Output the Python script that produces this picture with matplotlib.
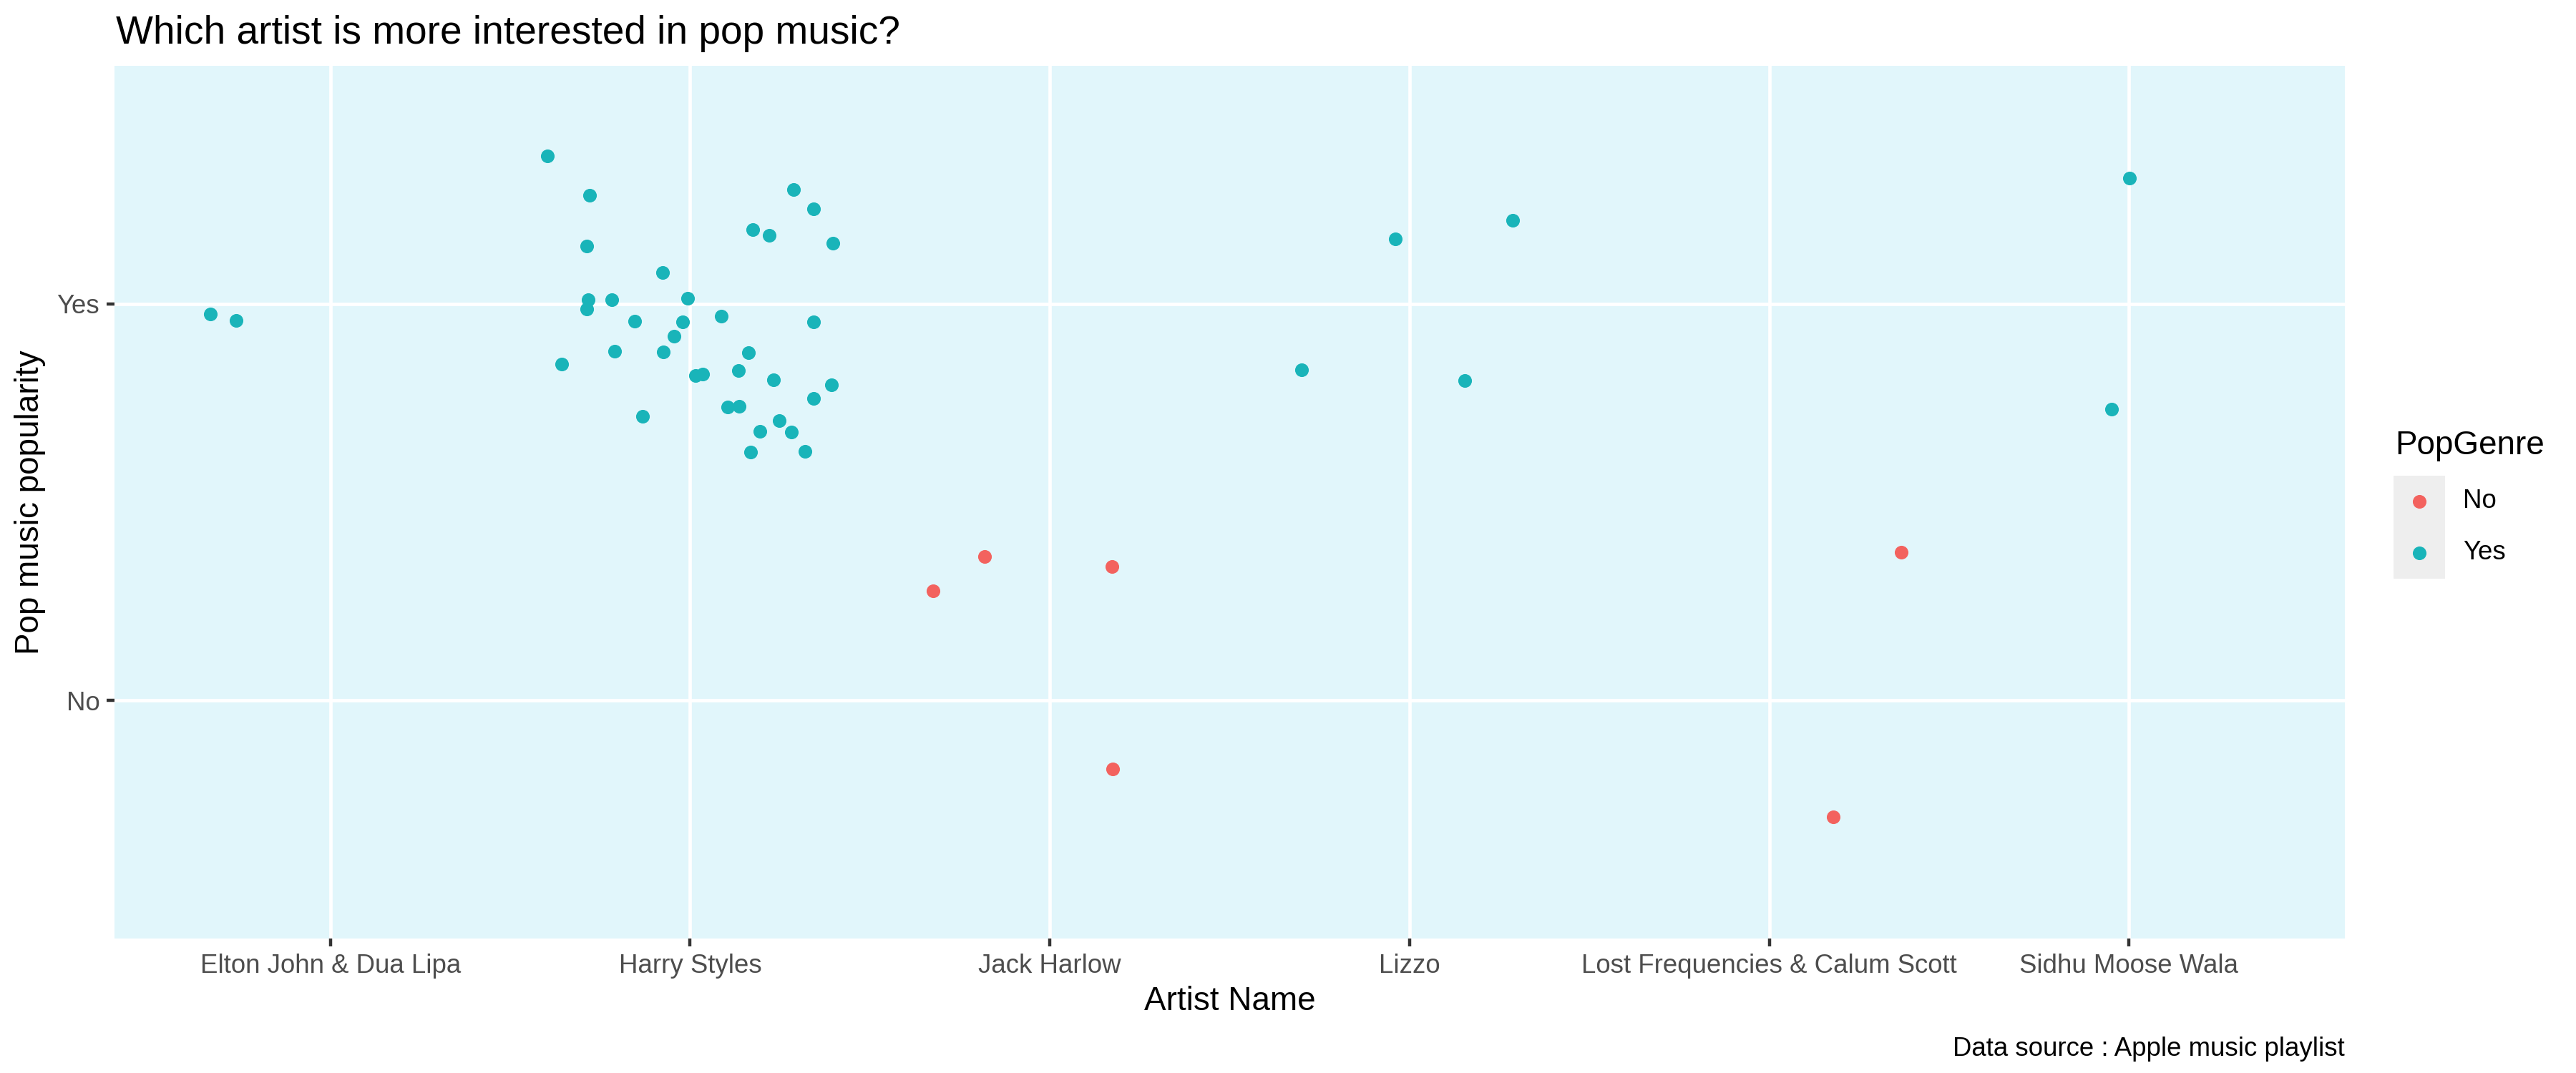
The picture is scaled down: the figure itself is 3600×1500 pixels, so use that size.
import matplotlib
matplotlib.use("Agg")
import matplotlib.pyplot as plt

plt.rcParams['font.family'] = ['Liberation Sans', 'DejaVu Sans']

# categories
artists = ["Elton John & Dua Lipa", "Harry Styles", "Jack Harlow", "Lizzo",
           "Lost Frequencies & Calum Scott", "Sidhu Moose Wala"]
genre_levels = ["No", "Yes"]

# jittered positions (x: artist index 1..6, y: 1=No, 2=Yes)
yes_x = [0.666, 0.739,
         1.604, 1.721, 1.713, 1.923, 1.717, 1.782, 1.994, 1.713, 1.846, 1.980,
         1.956, 1.791, 1.925, 1.643, 1.867, 2.016, 2.036, 2.087, 2.343, 2.288,
         2.344, 2.174, 2.221, 2.397, 2.163, 2.134, 2.232, 2.393, 2.343, 2.105,
         2.137, 2.247, 2.194, 2.281, 2.169, 2.319,
         3.700, 3.961, 4.153, 4.287,
         5.952, 6.001]
yes_y = [1.974, 1.958,
         2.372, 2.273, 2.145, 2.079, 2.010, 2.011, 2.014, 1.986, 1.957, 1.955,
         1.919, 1.880, 1.879, 1.848, 1.716, 1.820, 1.823, 1.968, 1.955, 2.288,
         2.240, 2.187, 2.173, 2.152, 1.877, 1.831, 1.808, 1.795, 1.762, 1.740,
         1.741, 1.705, 1.679, 1.677, 1.627, 1.628,
         1.834, 2.163, 1.806, 2.211,
         1.735, 2.317]

no_x = [2.676, 2.818, 3.172, 3.175, 5.178, 5.367]
no_y = [1.277, 1.363, 1.338, 0.827, 0.706, 1.374]

col_no = "#F3625E"
col_yes = "#19B4B9"
panel_bg = "#E1F6FB"

W, H = 3600, 1500
fig = plt.figure(figsize=(12, 5), dpi=300)
ax = fig.add_axes([160 / W, 1 - 1312 / H, (3277 - 160) / W, (1312 - 92) / H])
ax.set_facecolor(panel_bg)

ax.scatter(no_x, no_y, s=21, color=col_no, linewidths=0, zorder=3)
ax.scatter(yes_x, yes_y, s=21, color=col_yes, linewidths=0, zorder=3)

ax.set_xlim(0.4, 6.6)
ax.set_ylim(0.4, 2.6)
ax.set_xticks(range(1, len(artists) + 1))
ax.set_xticklabels(artists)
ax.set_yticks([1, 2])
ax.set_yticklabels(genre_levels)

ax.grid(True, color="white", linewidth=1.13, zorder=1)
ax.set_axisbelow(True)
for sp in ax.spines.values():
    sp.set_visible(False)
ax.tick_params(length=2.75, width=1.07, color="#333333", labelcolor="#4D4D4D",
               labelsize=8.8, pad=2.2)

ax.set_xlabel("Artist Name", fontsize=11, color="black", labelpad=2.5)
fig.text(42 / W, 1 - 702 / H, "Pop music popularity", rotation=90, fontsize=11,
         ha="center", va="center")

fig.text(162 / W, 1 - 61 / H, "Which artist is more interested in pop music?",
         fontsize=13.2, ha="left", va="baseline")
fig.text(3277 / W, 1 - 1476 / H, "Data source : Apple music playlist",
         fontsize=8.8, ha="right", va="baseline")

# legend drawn ggplot-style: grey key boxes with labels to the right
lax = fig.add_axes([3345 / W, 1 - 809 / H, 72 / W, 144 / H])
lax.set_facecolor("#EEEEEE")
lax.set_xlim(0, 1)
lax.set_ylim(0, 2)
lax.scatter([0.5], [1.5], s=21, color=col_no, linewidths=0)
lax.scatter([0.5], [0.5], s=21, color=col_yes, linewidths=0)
lax.set_xticks([])
lax.set_yticks([])
for sp in lax.spines.values():
    sp.set_visible(False)
for yy, lab in zip([1.5, 0.5], genre_levels):
    lax.text(97 / 72, yy, lab, fontsize=8.8, ha="left", va="center",
             transform=lax.get_yaxis_transform() if False else lax.transData)
fig.text(3347 / W, 1 - 623 / H, "PopGenre", fontsize=11, ha="left", va="center")

fig.savefig("out.png", dpi=300)
